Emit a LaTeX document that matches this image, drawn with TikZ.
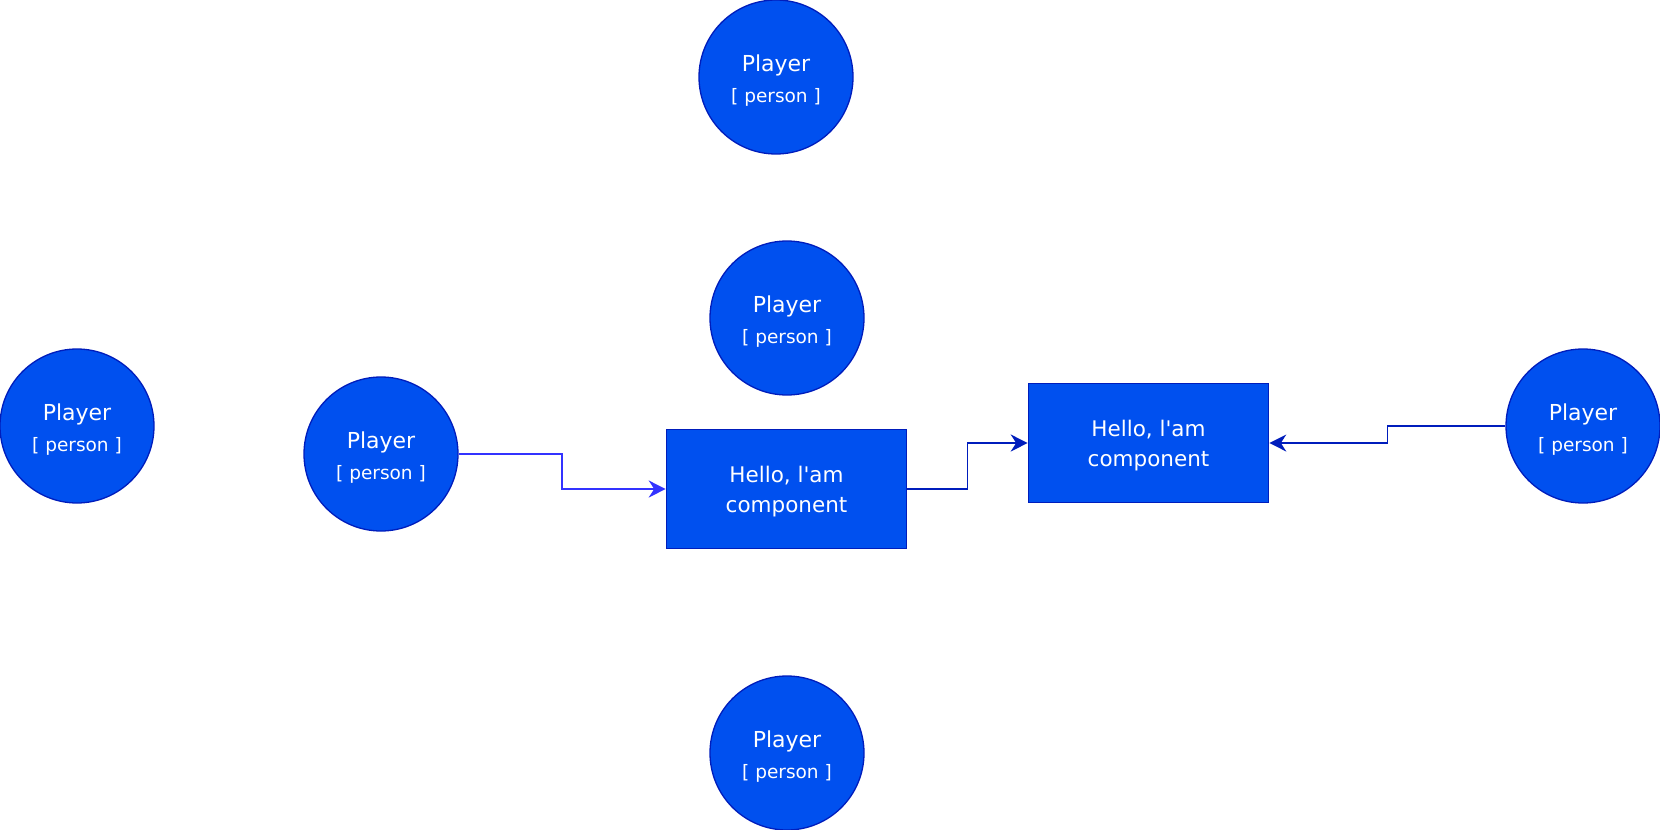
\documentclass[tikz,border=0pt]{standalone}
\usepackage{fontspec}
\newfontfamily\plfont{DejaVu Sans}
\usetikzlibrary{arrows.meta,calc}
\definecolor{plfill}{HTML}{0050EF}
\definecolor{pldraw}{HTML}{001DBC}
\definecolor{lnlight}{HTML}{3333FF}
\newcommand{\pltext}{\rule{0pt}{23pt}Player\\[7pt]{\fontsize{18.5}{20}\selectfont [ person ]}}
\newcommand{\cmtext}{\rule{0pt}{22pt}Hello, l'am\\component}
\begin{document}
\begin{tikzpicture}
  [x=1pt,y=-1pt,
   player/.style={circle,fill=plfill,draw=pldraw,line width=1.3pt,minimum size=154,inner sep=0pt,
     text=white,align=center,font=\plfont\fontsize{22}{24}\selectfont},
   comp/.style={rectangle,fill=plfill,draw=pldraw,line width=1.6pt,minimum width=240,minimum height=119,
     text=white,align=center,font=\plfont\fontsize{21.5}{30}\selectfont},
   link/.style={line width=1.6pt,-{Stealth[length=17pt,width=17pt,inset=5.5pt]}}]
  \useasboundingbox (0,0) rectangle (1660,830);
  % Jugadores
  \node[player] (p1) at (776,77)   {\pltext};
  \node[player] (p2) at (787,318)  {\pltext};
  \node[player] (p3) at (77,426)   {\pltext};
  \node[player] (p4) at (381,454)  {\pltext};
  \node[player] (p5) at (787,753)  {\pltext};
  \node[player] (p6) at (1583,426) {\pltext};

  % Componentes
  \node[comp] (c1) at (786.5,489) {\cmtext};
  \node[comp] (c2) at (1148.5,443) {\cmtext};

  % Conexiones en escalón
  \foreach \from/\to/\col in {p4.east/c1.west/lnlight, c1.east/c2.west/pldraw, p6.west/c2.east/pldraw}
    \draw[link,draw=\col] (\from) -| ($(\from)!0.5!(\to)$) |- (\to);
\end{tikzpicture}
\end{document}
